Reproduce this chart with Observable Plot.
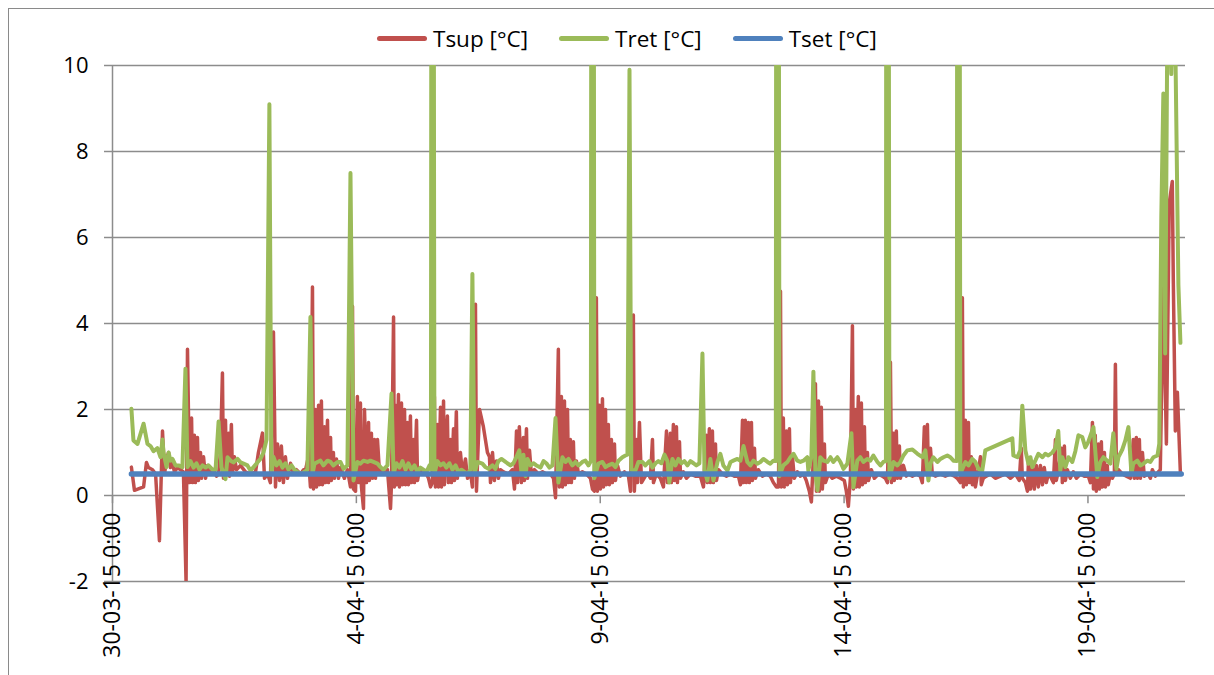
<!DOCTYPE html>
<html><head><meta charset="utf-8">
<script src="https://cdn.jsdelivr.net/npm/d3@7"></script>
<script src="https://cdn.jsdelivr.net/npm/@observablehq/plot@0.6"></script>
<style>
html,body{margin:0;padding:0;background:#fff;}
body{width:1214px;height:675px;overflow:hidden;position:relative;font-family:"Open Sans",sans-serif;}
#frame{position:absolute;left:8px;top:8px;width:1300px;height:800px;border-left:1.5px solid #8a8a8a;border-top:1.5px solid #8a8a8a;}
#legend{position:absolute;top:24px;left:377px;height:28px;display:flex;align-items:center;font-size:22.5px;color:#000;white-space:nowrap;z-index:2;}
.item{display:flex;align-items:center;margin-right:31px;}
.sw{width:50px;height:5px;border-radius:3px;margin-right:6px;}
#chart{position:absolute;left:0;top:40px;z-index:1;}
</style></head><body>
<div id="frame"></div>
<div id="legend"></div>
<div id="chart"></div>
<script>
// hours since 30-03-15 0:00, value [°C]
const tsup = [[9.3,0.66],[10.8,0.12],[15.3,0.2],[16.7,0.77],[17.7,0.65],[19.7,0.6],[21.2,0.5],[23.1,-1.05],[24.6,1.5],[25.6,0.5],[26.6,0.85],[27.6,1.0],[28.5,0.65],[29.5,0.75],[30.5,0.55],[32.0,0.65],[33.5,0.6],[34.9,0.55],[36.2,-2.0],[36.9,3.4],[37.9,0.3],[38.9,1.8],[39.4,0.3],[40.3,1.4],[40.8,0.3],[41.8,1.35],[42.3,0.35],[43.3,1.0],[43.8,0.4],[44.8,0.9],[45.8,0.4],[46.7,0.7],[48.2,0.5],[49.7,0.6],[51.2,0.45],[52.2,0.5],[53.1,1.0],[54.1,2.85],[54.6,0.4],[55.6,1.75],[56.1,0.5],[57.1,1.45],[57.6,0.45],[58.5,1.65],[59.0,0.5],[60.0,0.9],[61.0,0.6],[63.0,0.7],[65.4,0.55],[67.9,0.5],[70.4,0.55],[71.8,1.0],[73.8,1.45],[74.8,0.4],[76.3,0.5],[77.7,0.3],[79.2,3.8],[80.2,0.2],[81.2,1.2],[82.2,0.35],[83.1,1.15],[84.1,0.3],[85.1,0.9],[86.1,0.4],[87.6,0.75],[89.1,0.5],[90.5,0.6],[92.5,0.5],[94.0,0.6],[95.0,0.6],[96.4,0.9],[97.4,0.2],[98.4,4.85],[98.9,0.15],[99.9,2.0],[100.4,0.2],[101.4,2.1],[101.8,0.25],[102.8,2.2],[103.3,0.25],[104.3,1.6],[104.8,0.3],[105.8,1.75],[106.3,0.3],[107.3,1.35],[107.7,0.35],[108.7,1.0],[109.2,0.4],[110.2,0.85],[111.2,0.4],[112.2,0.65],[114.1,0.4],[115.6,0.6],[117.1,0.2],[118.1,4.4],[118.6,0.15],[119.6,0.1],[120.5,2.3],[121.0,0.3],[122.0,2.15],[122.5,0.2],[123.5,-0.3],[124.0,2.0],[125.0,0.3],[126.0,1.7],[126.4,0.35],[127.4,1.45],[127.9,0.4],[128.9,1.3],[129.4,0.4],[130.4,1.3],[131.4,0.5],[132.8,0.6],[134.3,0.5],[135.3,0.6],[136.8,-0.3],[137.3,0.3],[138.3,4.15],[138.7,0.2],[139.2,2.1],[139.7,0.25],[140.7,2.35],[141.2,0.2],[142.2,2.15],[142.7,0.25],[143.7,2.0],[144.2,0.25],[145.1,1.7],[145.6,0.25],[146.6,1.85],[147.1,0.3],[148.1,1.3],[148.6,0.3],[149.6,1.75],[150.1,0.35],[151.0,0.6],[152.5,0.5],[154.0,0.55],[155.5,0.4],[156.5,0.2],[157.4,0.3],[158.4,2.3],[158.9,0.2],[159.9,1.65],[160.4,0.2],[161.4,2.05],[161.9,0.2],[162.9,2.2],[163.3,0.25],[164.8,1.85],[165.3,0.3],[166.3,1.3],[166.8,0.3],[167.8,1.55],[168.3,0.35],[169.2,1.95],[169.7,0.4],[171.2,1.0],[172.2,0.5],[173.7,0.85],[174.7,0.4],[176.1,0.55],[177.1,0.2],[178.6,4.45],[179.1,0.1],[180.6,2.0],[182.5,1.6],[184.5,1.0],[185.5,0.9],[186.0,0.3],[187.0,1.0],[187.9,0.35],[188.9,0.8],[189.9,0.4],[190.9,0.6],[192.4,0.55],[194.8,0.5],[196.8,0.6],[197.8,0.15],[198.8,1.5],[199.3,0.3],[200.2,1.6],[201.2,0.3],[202.2,1.35],[202.7,0.35],[203.7,1.55],[204.2,0.4],[205.2,1.05],[206.1,0.5],[207.6,0.6],[209.6,0.5],[211.6,0.55],[213.5,0.5],[215.5,0.5],[217.0,0.4],[218.0,-0.05],[219.4,3.4],[219.9,0.2],[220.9,2.3],[221.4,0.2],[222.4,2.2],[222.9,0.25],[223.9,2.0],[224.4,0.3],[225.3,1.3],[225.8,0.3],[226.8,1.25],[227.3,0.4],[228.3,0.8],[229.3,0.5],[231.2,0.55],[233.2,0.5],[235.2,0.4],[236.2,0.15],[237.1,0.1],[238.1,4.6],[238.6,0.1],[239.6,2.1],[240.1,0.15],[241.1,2.25],[241.6,0.2],[242.6,2.0],[243.0,0.25],[244.0,1.65],[244.5,0.25],[245.5,1.3],[246.0,0.3],[247.0,1.2],[247.5,0.35],[248.5,0.7],[249.9,0.45],[251.9,0.55],[253.9,0.45],[254.9,0.1],[256.3,4.2],[256.8,0.1],[257.8,1.3],[258.3,0.3],[259.3,1.7],[260.3,0.3],[262.2,0.45],[263.7,0.5],[264.7,0.4],[265.7,1.3],[266.2,0.3],[267.6,0.5],[269.6,0.4],[271.1,0.2],[272.6,1.5],[273.1,0.3],[274.5,1.45],[275.0,0.3],[276.0,1.65],[276.5,0.35],[277.5,1.6],[278.0,0.3],[279.0,1.25],[279.5,0.4],[280.9,0.55],[282.4,0.4],[284.4,0.5],[286.8,0.45],[289.3,0.45],[290.8,0.2],[292.2,1.4],[292.7,0.3],[293.7,1.55],[294.2,0.3],[295.2,1.5],[295.7,0.3],[296.7,1.2],[297.2,0.35],[298.2,0.6],[300.1,0.5],[302.1,0.45],[304.1,0.5],[306.0,0.45],[308.0,0.45],[309.0,0.25],[310.0,1.75],[310.5,0.3],[311.4,1.75],[311.9,0.3],[312.9,1.7],[313.4,0.3],[314.4,1.7],[314.9,0.35],[315.9,1.1],[316.4,0.4],[317.8,0.6],[319.8,0.45],[321.8,0.5],[323.7,0.45],[325.2,0.3],[326.7,0.2],[327.7,0.2],[328.7,4.75],[329.1,0.2],[330.1,1.8],[330.6,0.2],[331.6,1.5],[332.1,0.25],[333.1,1.55],[333.6,0.3],[334.6,0.9],[335.5,0.4],[337.0,0.55],[338.5,0.45],[340.0,0.5],[341.4,0.35],[342.9,0.1],[343.9,-0.15],[344.9,0.9],[345.9,2.6],[346.4,0.1],[347.4,2.2],[347.8,0.1],[348.8,2.05],[349.3,0.15],[350.3,1.2],[350.8,0.3],[352.3,0.5],[354.2,0.4],[356.2,0.45],[358.2,0.4],[360.1,0.35],[361.1,0.1],[362.1,-0.25],[363.1,0.4],[364.1,3.95],[364.6,0.15],[365.6,2.0],[366.0,0.2],[367.0,2.3],[367.5,0.2],[368.5,2.15],[369.0,0.25],[370.0,1.6],[370.5,0.3],[371.5,1.0],[372.0,0.35],[373.4,0.6],[374.9,0.4],[376.9,0.5],[378.8,0.45],[380.3,0.4],[381.3,0.3],[382.8,3.1],[383.3,0.3],[384.3,1.45],[384.7,0.35],[385.7,1.5],[386.2,0.4],[387.2,1.15],[387.7,0.4],[389.2,0.7],[390.6,0.45],[391.6,0.5],[393.6,0.45],[395.6,0.5],[397.5,0.45],[398.5,0.3],[399.5,1.6],[400.0,0.5],[401.0,1.65],[401.5,0.45],[402.5,1.1],[403.4,0.5],[404.9,0.45],[407.4,0.5],[409.8,0.45],[412.3,0.5],[414.3,0.45],[415.7,0.4],[417.2,0.3],[418.2,4.6],[418.7,0.2],[419.7,1.75],[420.2,0.25],[421.2,1.7],[421.6,0.3],[422.6,0.9],[423.1,0.25],[424.1,0.75],[424.6,0.2],[426.1,0.6],[427.1,0.9],[427.5,0.25],[428.5,0.4],[430.0,0.45],[432.0,0.5],[434.4,0.4],[436.9,0.45],[439.4,0.5],[441.8,0.4],[444.3,0.5],[446.2,0.35],[447.2,1.1],[447.7,0.4],[449.2,0.3],[450.2,0.1],[450.7,0.75],[451.7,0.15],[452.6,0.7],[453.6,0.15],[454.6,0.7],[455.6,0.2],[456.6,0.7],[457.6,0.25],[458.5,0.65],[459.5,0.3],[460.5,0.5],[461.5,0.45],[463.0,0.3],[464.0,1.3],[464.4,0.35],[465.4,0.55],[466.9,1.1],[467.4,0.3],[468.4,1.15],[468.9,0.35],[469.9,0.6],[471.3,0.4],[472.8,0.55],[474.3,0.4],[476.3,0.5],[478.2,0.45],[480.2,0.45],[481.2,0.3],[482.2,1.7],[482.7,0.15],[483.6,1.4],[484.1,0.1],[485.1,1.2],[485.6,0.15],[486.6,1.25],[487.1,0.2],[488.1,1.0],[488.6,0.2],[489.5,0.7],[490.0,0.25],[491.0,0.5],[492.0,0.4],[493.0,0.5],[493.5,3.05],[494.0,0.5],[495.0,0.6],[496.9,0.5],[498.9,0.45],[500.9,0.4],[502.3,1.3],[502.8,0.4],[503.8,1.35],[504.3,0.4],[505.3,1.3],[505.8,0.4],[506.8,1.0],[507.7,0.45],[509.7,0.5],[510.7,0.4],[511.7,0.6],[513.2,0.45],[514.6,0.55],[515.6,0.6],[517.1,4.9],[518.6,1.2],[520.0,6.8],[521.5,7.3],[522.0,5.0],[523.0,1.5],[524.0,2.4],[525.5,0.5]];

const tret = [[9.3,2.02],[10.3,1.28],[12.3,1.2],[15.3,1.67],[17.2,1.2],[18.7,1.15],[20.2,1.03],[22.1,1.1],[23.6,0.89],[24.6,1.3],[25.1,1.0],[26.6,0.66],[27.6,1.0],[28.5,0.81],[29.5,0.85],[31.0,0.7],[32.5,0.7],[34.4,0.66],[35.9,2.95],[36.9,0.66],[38.4,0.8],[39.9,0.65],[41.3,0.75],[42.8,0.6],[44.3,0.7],[45.8,0.65],[47.2,0.7],[49.2,0.6],[50.7,0.6],[52.2,1.72],[53.6,0.66],[55.6,0.38],[56.6,0.89],[58.1,0.81],[59.5,0.77],[61.5,0.85],[63.0,0.77],[64.5,0.74],[66.4,0.7],[67.9,0.58],[69.4,0.66],[71.3,0.77],[72.8,0.85],[74.3,1.0],[75.8,1.3],[77.2,9.1],[78.2,0.5],[79.2,0.9],[80.7,0.7],[82.2,0.8],[83.6,0.65],[85.1,0.75],[86.6,0.6],[88.1,0.7],[89.5,0.6],[91.0,0.55],[92.5,0.5],[94.5,0.55],[95.9,0.6],[97.4,4.15],[98.4,0.5],[99.4,0.74],[100.9,0.78],[102.3,0.81],[103.8,0.7],[105.8,0.81],[107.3,0.78],[108.7,0.7],[110.7,0.78],[112.2,0.78],[113.7,0.62],[115.6,0.7],[117.1,7.5],[118.6,0.35],[120.5,0.78],[122.0,0.74],[123.5,0.81],[125.5,0.78],[126.9,0.81],[128.4,0.78],[130.4,0.74],[131.9,0.66],[133.3,0.6],[135.3,0.7],[137.3,2.37],[138.3,0.5],[139.7,0.75],[141.2,0.65],[142.7,0.8],[144.2,0.6],[145.6,0.75],[147.1,0.6],[148.6,0.7],[150.1,0.55],[151.5,0.65],[153.0,0.6],[154.5,0.55],[156.0,0.7],[156.7,0.6],[157.0,20],[157.9,20],[158.4,0.5],[159.9,0.8],[161.4,0.7],[162.9,0.75],[164.3,0.65],[165.8,0.75],[167.3,0.6],[168.8,0.7],[170.2,0.55],[171.7,0.6],[173.2,0.55],[174.7,0.5],[176.1,0.6],[177.1,5.15],[178.1,0.5],[179.6,0.78],[182.0,0.74],[183.5,0.66],[185.0,0.62],[187.0,0.7],[188.4,0.62],[189.9,0.8],[191.4,0.85],[192.9,0.8],[194.3,0.75],[195.8,0.7],[197.3,0.75],[198.8,0.9],[200.2,1.05],[201.2,0.55],[202.2,0.95],[203.2,0.45],[204.2,0.85],[205.7,0.7],[207.1,0.75],[208.6,0.7],[210.6,0.65],[212.1,0.8],[213.5,0.75],[215.0,0.65],[216.5,0.7],[218.0,1.8],[219.4,0.3],[221.4,0.89],[222.9,0.78],[224.4,0.85],[226.3,0.7],[227.8,0.78],[229.3,0.7],[231.2,0.78],[232.7,0.81],[234.2,0.7],[235.4,0.8],[235.7,20],[236.7,20],[237.1,0.4],[239.1,0.74],[241.1,0.78],[242.6,0.66],[244.0,0.7],[246.0,0.74],[247.5,0.66],[249.0,0.81],[250.9,0.89],[252.4,0.93],[253.4,0.95],[254.4,9.9],[255.3,0.6],[257.3,0.58],[258.8,0.78],[260.8,0.78],[262.2,0.7],[264.2,0.8],[265.7,0.65],[267.2,0.75],[268.6,0.8],[270.1,0.75],[271.6,0.95],[273.1,0.8],[274.0,0.3],[275.5,0.85],[277.0,0.7],[278.5,0.85],[280.0,0.75],[281.4,0.8],[282.9,0.7],[284.4,0.8],[285.9,0.75],[287.3,0.7],[288.8,0.75],[290.3,3.3],[291.3,0.6],[292.7,0.35],[294.2,0.85],[295.7,0.35],[297.7,0.78],[299.1,0.97],[300.6,0.7],[302.6,0.58],[304.1,0.78],[305.5,0.81],[307.5,0.85],[309.0,0.81],[310.5,1.15],[312.4,0.78],[313.9,0.7],[315.4,0.81],[317.3,0.74],[318.8,0.78],[320.3,0.85],[322.3,0.78],[323.7,0.74],[325.2,0.81],[326.4,0.8],[326.7,20],[327.7,20],[328.2,0.45],[330.1,0.7],[332.1,0.78],[333.6,0.89],[335.1,0.97],[337.0,0.81],[338.5,0.78],[340.0,0.81],[341.9,0.89],[342.4,0.58],[343.9,0.9],[344.9,2.88],[345.9,0.5],[346.9,0.12],[348.3,0.89],[349.8,0.81],[351.8,0.78],[353.3,0.89],[354.7,0.78],[356.7,0.89],[358.2,0.78],[359.7,0.62],[361.6,0.74],[363.6,1.45],[364.6,0.19],[366.5,0.81],[368.0,0.89],[369.5,0.78],[371.5,0.85],[372.9,0.81],[374.4,0.93],[376.4,0.78],[377.9,0.7],[379.3,0.78],[380.6,0.8],[380.8,20],[381.8,20],[382.3,0.4],[384.3,0.78],[386.2,0.7],[387.7,0.78],[389.2,0.93],[391.1,1.05],[393.6,1.07],[396.1,0.97],[398.5,0.89],[400.0,1.05],[401.5,0.35],[402.5,0.74],[403.9,0.89],[405.9,0.78],[407.4,0.85],[408.9,0.89],[410.8,0.93],[412.3,0.89],[413.8,0.81],[415.5,0.8],[415.7,20],[416.7,20],[417.2,0.5],[418.2,0.62],[419.7,0.78],[421.2,0.7],[423.1,0.85],[424.6,0.78],[426.1,0.62],[428.0,0.58],[429.5,1.05],[442.8,1.33],[443.3,0.93],[445.3,0.89],[446.7,1.05],[447.7,2.09],[449.2,1.05],[450.7,0.74],[451.7,0.89],[452.6,0.66],[454.1,0.81],[455.6,0.97],[457.6,0.89],[459.0,0.97],[460.5,0.93],[462.5,1.0],[464.0,1.1],[465.4,1.5],[466.4,0.58],[467.4,0.89],[468.9,0.66],[470.4,0.89],[472.3,0.78],[473.8,1.03],[475.3,1.4],[477.2,1.36],[478.7,1.12],[480.2,1.25],[482.7,1.59],[484.6,0.43],[486.1,0.78],[487.6,0.89],[489.5,0.81],[491.0,0.74],[492.5,1.45],[494.0,0.62],[495.0,0.89],[496.9,1.07],[498.4,1.28],[499.9,1.59],[501.4,0.5],[502.3,0.74],[504.3,0.81],[505.8,0.7],[507.3,0.74],[509.2,0.81],[510.7,0.78],[512.2,0.89],[514.2,0.93],[515.1,1.2],[516.1,6.5],[517.1,9.35],[518.0,3.3],[519.0,10.5],[520.0,12],[521.0,9.8],[522.0,12],[523.0,10.5],[524.5,4.9],[525.5,3.55]];

const tset = [[9.3,0.5],[525.9,0.5]];

const seriesNames = ["Tsup [°C]", "Tret [°C]", "Tset [°C]"];
const seriesColors = ["#C0504D", "#9BBB59", "#4F81BD"];
const yTicks = [-2, 0, 2, 4, 6, 8, 10];
const xTickHours = [0, 120, 240, 360, 480];
const xTickLabels = ["30-03-15 0:00", "4-04-15 0:00", "9-04-15 0:00", "14-04-15 0:00", "19-04-15 0:00"];
const xEndHours = 528;

const base = Date.UTC(2015, 2, 30);
const toDate = h => new Date(base + h * 3600e3);
const rows = arr => arr.map(([h, v]) => ({t: toDate(h), v}));
const tickDates = xTickHours.map(toDate);
const grid = "#8c8c8c";

// legend
const legend = document.getElementById("legend");
seriesNames.forEach((n, i) => {
  const it = document.createElement("div"); it.className = "item";
  const sw = document.createElement("div"); sw.className = "sw"; sw.style.background = seriesColors[i];
  const tx = document.createElement("span"); tx.textContent = n;
  it.appendChild(sw); it.appendChild(tx); legend.appendChild(it);
});

const chart = Plot.plot({
  width: 1214, height: 635,
  marginTop: 25, marginBottom: 94, marginLeft: 112, marginRight: 29,
  x: {type: "utc", domain: [toDate(0), toDate(xEndHours)], axis: null},
  y: {domain: [-2, 10], axis: null},
  style: {fontFamily: "Open Sans", fontSize: "22px", color: "#000", background: "transparent"},
  marks: [
    Plot.gridY(yTicks, {stroke: grid, strokeOpacity: 1, strokeWidth: 1.5}),
    Plot.ruleX([toDate(0)], {stroke: grid, strokeWidth: 1.5}),
    Plot.axisY(yTicks, {label: null, tickSize: 8, tickPadding: 16, stroke: grid, strokeWidth: 1.5, strokeOpacity: 1, fontSize: 22, tickFormat: d => String(d)}),
    Plot.ruleX(tickDates, {x: d => d, y1: 0, y2: -0.19, stroke: grid, strokeWidth: 1.5}),
    Plot.text(tickDates, {x: d => d, y: 0, text: (d, i) => xTickLabels[i], rotate: -90, textAnchor: "end", dy: 17, fontSize: 23, fill: "#000"}),
    Plot.line(rows(tsup), {x: "t", y: "v", stroke: seriesColors[0], strokeWidth: 3.5, strokeLinejoin: "round", strokeLinecap: "round", clip: true}),
    Plot.line(rows(tret), {x: "t", y: "v", stroke: seriesColors[1], strokeWidth: 4, strokeLinejoin: "round", strokeLinecap: "round", clip: true}),
    Plot.line(rows(tset), {x: "t", y: "v", stroke: seriesColors[2], strokeWidth: 5.5, strokeLinecap: "round", clip: true})
  ]
});
document.getElementById("chart").appendChild(chart);
</script>
</body></html>
